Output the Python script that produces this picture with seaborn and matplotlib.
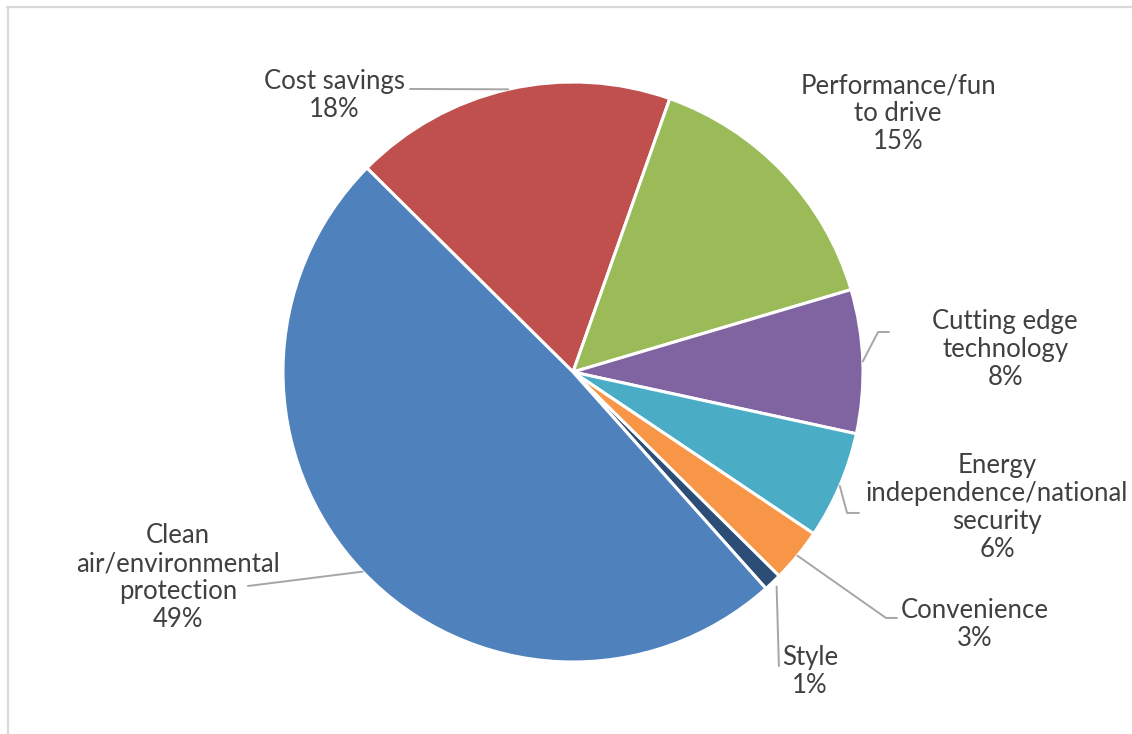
import numpy as np
import matplotlib
matplotlib.use("Agg")
import matplotlib.pyplot as plt
from matplotlib.lines import Line2D
import seaborn as sns

# data (clockwise, starting with cost savings)
labels = ["Cost savings", "Performance/fun\nto drive", "Cutting edge\ntechnology",
          "Energy\nindependence/national\nsecurity", "Convenience", "Style",
          "Clean\nair/environmental\nprotection"]
values = [18, 15, 8, 6, 3, 1, 49]
colors = ["#C0504D", "#9BBB59", "#8064A2", "#4BACC6", "#F79646", "#2C4D75", "#4F81BD"]

# label placement (pie radius units): text centre, leader elbow, leader end
text_pos = [(-0.824, 0.955), (1.121, 0.890), (1.490, 0.076), (1.462, -0.466),
            (1.386, -0.872), (0.817, -1.034), (-1.362, -0.710)]
elbows = [None, None, (1.052, 0.138), (0.945, -0.486), (1.079, -0.848), None, None]
line_end = [(-0.562, 0.976), None, (1.090, 0.138), (0.986, -0.486),
            (1.117, -0.848), (0.710, -1.014), (-1.121, -0.738)]

sns.set_theme(style="white")
plt.rcParams["font.family"] = ["Lato", "DejaVu Sans"]
text_col = "#404040"
line_col = "#A6A6A6"

fig = plt.figure(figsize=(11.32, 7.34), dpi=100)
ax = fig.add_axes([283 / 1132, 72 / 734, 580 / 1132, 580 / 734])

wedges, _ = ax.pie(values, colors=colors, startangle=135.3, counterclock=False,
                   wedgeprops=dict(edgecolor="white", linewidth=2.2))
ax.set_xlim(-1, 1)
ax.set_ylim(-1, 1)
ax.set_aspect("equal")
ax.axis("off")

for i, w in enumerate(wedges):
    v = values[i]
    txt = f"{labels[i]}\n{v}%"
    ax.text(text_pos[i][0], text_pos[i][1], txt, ha="center", va="center",
            multialignment="center", fontsize=18.5, linespacing=1.15,
            color=text_col, clip_on=False)
    if line_end[i] is None:
        continue
    mid = np.deg2rad((w.theta1 + w.theta2) / 2)
    r0 = 1.02 if labels[i] == "Style" else 1.0
    pts = [(r0 * np.cos(mid), r0 * np.sin(mid))]
    if elbows[i] is not None:
        pts.append(elbows[i])
    pts.append(line_end[i])
    xs, ys = zip(*pts)
    ax.plot(xs, ys, color=line_col, lw=1.4, clip_on=False)

# chart frame
fig.add_artist(Line2D([7 / 1132, 1], [1 - 6.5 / 734, 1 - 6.5 / 734],
                      transform=fig.transFigure, color="#D9D9D9", lw=1.6))
fig.add_artist(Line2D([7.5 / 1132, 7.5 / 1132], [0, 1 - 6.5 / 734],
                      transform=fig.transFigure, color="#D9D9D9", lw=1.6))

fig.savefig("out.png", dpi=100, facecolor="white")
